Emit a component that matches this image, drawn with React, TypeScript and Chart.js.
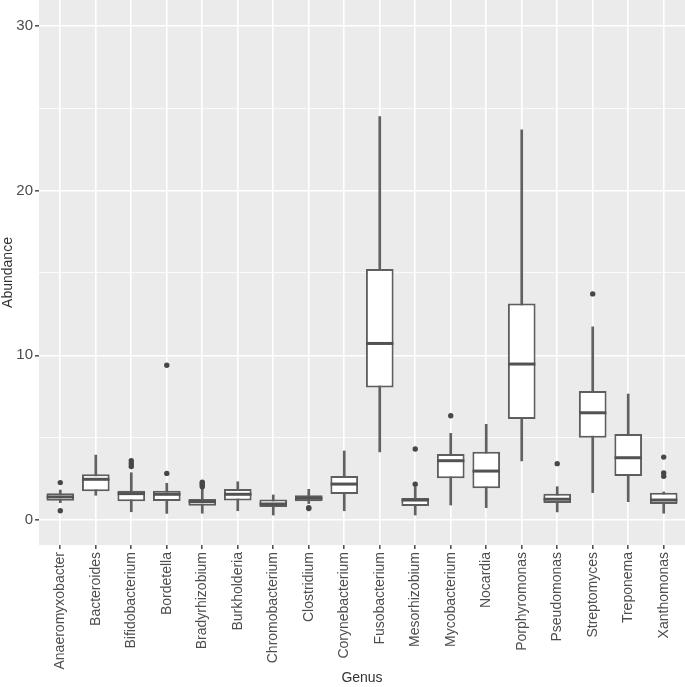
import React, { useEffect, useRef } from 'react';
import { Chart, registerables } from 'chart.js';

Chart.register(...registerables);

const genera = [
  'Anaeromyxobacter', 'Bacteroides', 'Bifidobacterium', 'Bordetella', 'Bradyrhizobium',
  'Burkholderia', 'Chromobacterium', 'Clostridium', 'Corynebacterium', 'Fusobacterium',
  'Mesorhizobium', 'Mycobacterium', 'Nocardia', 'Porphyromonas', 'Pseudomonas',
  'Streptomyces', 'Treponema', 'Xanthomonas',
];
const whiskerLow = [1.05, 1.5, 0.5, 0.4, 0.41, 0.56, 0.3, 1.0, 0.56, 4.14, 0.3, 0.91, 0.75, 3.58, 0.49, 1.66, 1.11, 0.41];
const q1 = [1.17, 1.74, 1.13, 1.15, 0.87, 1.19, 0.79, 1.13, 1.58, 8.05, 0.85, 2.53, 1.92, 6.13, 1.03, 4.99, 2.67, 0.97];
const median = [1.4, 2.47, 1.6, 1.56, 1.11, 1.56, 0.97, 1.32, 2.18, 10.72, 1.21, 3.6, 2.97, 9.47, 1.26, 6.51, 3.78, 1.21];
const q3 = [1.62, 2.77, 1.78, 1.78, 1.27, 1.88, 1.25, 1.5, 2.67, 15.25, 1.33, 4.0, 4.15, 13.15, 1.6, 7.83, 5.22, 1.65];
const whiskerHigh = [1.82, 3.94, 2.87, 2.23, 1.87, 2.32, 1.52, 1.86, 4.19, 24.5, 1.98, 5.26, 5.81, 23.7, 2.02, 11.73, 7.65, 1.7];
const outlierGenus = [0, 0, 2, 2, 2, 3, 3, 4, 4, 4, 4, 7, 7, 10, 10, 11, 14, 15, 17, 17, 17];
const outlierValue = [2.27, 0.56, 3.25, 3.42, 3.6, 2.83, 9.4, 2.02, 2.12, 2.22, 2.3, 0.69, 0.75, 2.17, 4.31, 6.33, 3.42, 13.73, 2.65, 2.85, 3.82];

const FONT = 'Liberation Sans, Arial, sans-serif';

const panelBg = {
  id: 'panelBg',
  beforeDraw(chart: any) {
    const { ctx, chartArea } = chart;
    if (!chartArea) return;
    ctx.save();
    ctx.fillStyle = '#EBEBEB';
    ctx.fillRect(chartArea.left, chartArea.top, chartArea.right - chartArea.left, chartArea.bottom - chartArea.top);
    ctx.restore();
  },
};

export default function App() {
  const ref = useRef<HTMLCanvasElement | null>(null);

  useEffect(() => {
    if (!ref.current) return;
    const idx = genera.map((_, i) => i);
    const chart = new Chart(ref.current, {
      type: 'bar',
      data: {
        datasets: [
          {
            type: 'bar',
            label: 'whisker',
            data: idx.map((i) => ({ x: i, y: [whiskerLow[i], whiskerHigh[i]] })),
            backgroundColor: '#616161',
            borderWidth: 0,
            barThickness: 2,
            grouped: false,
            order: 3,
          } as any,
          {
            type: 'bar',
            label: 'box',
            data: idx.map((i) => ({ x: i, y: [q1[i], q3[i]] })),
            backgroundColor: '#FFFFFF',
            borderColor: '#5E5E5E',
            borderWidth: 2,
            borderSkipped: false,
            grouped: false,
            categoryPercentage: 1,
            barPercentage: 0.78,
            order: 2,
          } as any,
          {
            type: 'scatter',
            label: 'median',
            data: idx.map((i) => ({ x: i, y: median[i] })),
            pointStyle: 'line',
            pointRadius: (c: any) => {
              const x = c.chart.scales.x;
              return x ? Math.abs(x.getPixelForValue(0.385) - x.getPixelForValue(0)) : 13;
            },
            pointBorderColor: '#525252',
            pointBorderWidth: 3,
            pointBackgroundColor: '#525252',
            order: 1,
          } as any,
          {
            type: 'scatter',
            label: 'outliers',
            data: outlierGenus.map((g, k) => ({ x: g, y: outlierValue[k] })),
            pointStyle: 'circle',
            pointRadius: 2.7,
            pointBackgroundColor: '#474747',
            pointBorderWidth: 0,
            order: 0,
          } as any,
        ],
      },
      options: {
        animation: false,
        responsive: false,
        devicePixelRatio: 1,
        events: [],
        layout: { padding: 0, autoPadding: false },
        plugins: { legend: { display: false }, tooltip: { enabled: false } },
        scales: {
          x: {
            type: 'linear',
            min: -0.6,
            max: 17.6,
            offset: false,
            grid: {
              offset: false,
              color: '#FFFFFF',
              lineWidth: 1.6,
              tickLength: 4,
              tickColor: '#555555',
            },
            border: { display: false },
            ticks: {
              stepSize: 1,
              includeBounds: false,
              autoSkip: false,
              maxRotation: 90,
              minRotation: 90,
              padding: 3,
              color: '#4D4D4D',
              font: { family: FONT, size: 14 },
              callback: (v: any) => {
                const n = Number(v);
                return Number.isInteger(n) && genera[n] ? genera[n] : '';
              },
            },
            title: {
              display: true,
              text: 'Genus',
              color: '#333333',
              font: { family: FONT, size: 14 },
              padding: 0,
            },
            afterFit: (s: any) => {
              s.height = 142;
              s.paddingLeft = 0;
              s.paddingRight = 0;
            },
          } as any,
          y: {
            type: 'linear',
            min: -1.52,
            max: 31.58,
            grid: {
              color: '#FFFFFF',
              lineWidth: (c: any) => (c.tick && c.tick.value % 10 === 0 ? 1.6 : 0.8),
              tickLength: 4,
              tickColor: (c: any) => (c.tick && c.tick.value % 10 === 0 ? '#555555' : 'rgba(0,0,0,0)'),
            },
            border: { display: false },
            ticks: {
              stepSize: 5,
              includeBounds: false,
              padding: 2,
              color: '#4D4D4D',
              font: { family: FONT, size: 15 },
              callback: (v: any) => (Number(v) % 10 === 0 ? String(v) : ''),
            },
            title: {
              display: true,
              text: 'Abundance',
              color: '#333333',
              font: { family: FONT, size: 14 },
              padding: 0,
            },
            afterFit: (s: any) => {
              s.width = 39;
              s.paddingTop = 0;
              s.paddingBottom = 0;
            },
          } as any,
        },
      },
      plugins: [panelBg],
    });
    return () => chart.destroy();
  }, []);

  return (
    <div style={{ position: 'absolute', left: 0, top: 0, width: 685, height: 687, background: '#FFFFFF' }}>
      <canvas ref={ref} width={685} height={687} style={{ display: 'block' }} />
    </div>
  );
}
